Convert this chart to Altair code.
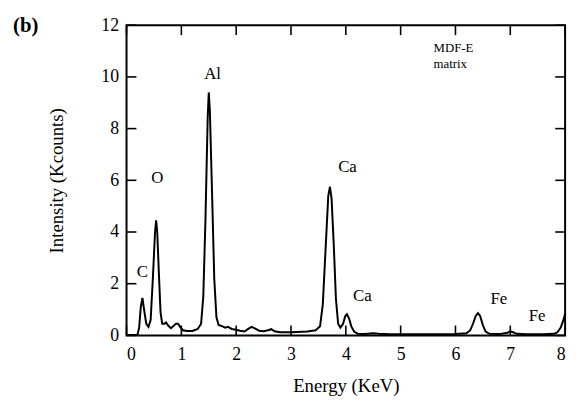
import altair as alt
import pandas as pd

# Spectrum (energy in KeV, intensity in Kcounts)
energy = [0.0, 0.20, 0.23, 0.26, 0.29, 0.32, 0.36, 0.40, 0.44, 0.48, 0.52, 0.54, 0.56, 0.59, 0.62,
          0.65, 0.69, 0.72, 0.76, 0.81, 0.85, 0.90, 0.94, 0.98, 1.03, 1.10, 1.20, 1.30, 1.36, 1.40,
          1.44, 1.48, 1.50, 1.52, 1.56, 1.60, 1.64, 1.68, 1.75, 1.80, 1.85, 1.92, 2.00, 2.07, 2.15,
          2.22, 2.28, 2.34, 2.42, 2.50, 2.58, 2.64, 2.70, 2.80, 2.90, 3.00, 3.10, 3.30, 3.45, 3.53,
          3.58, 3.63, 3.68, 3.71, 3.74, 3.78, 3.82, 3.86, 3.90, 3.95, 3.99, 4.02, 4.06, 4.10, 4.15,
          4.22, 4.35, 4.50, 4.60, 4.80, 5.00, 5.50, 6.00, 6.20, 6.27, 6.32, 6.37, 6.41, 6.45, 6.50,
          6.55, 6.62, 6.80, 6.95, 7.00, 7.05, 7.12, 7.30, 7.60, 7.80, 7.86, 7.92, 7.97, 8.00]
intensity = [0.02, 0.03, 0.30, 1.10, 1.45, 1.00, 0.45, 0.33, 0.60, 2.20, 4.00, 4.45, 4.00, 2.40, 0.90,
             0.45, 0.45, 0.50, 0.38, 0.28, 0.35, 0.45, 0.45, 0.32, 0.20, 0.17, 0.17, 0.25, 0.45, 1.50,
             4.50, 8.40, 9.40, 8.70, 5.50, 2.20, 0.70, 0.40, 0.35, 0.30, 0.33, 0.25, 0.22, 0.18, 0.15,
             0.25, 0.33, 0.27, 0.18, 0.16, 0.20, 0.24, 0.16, 0.12, 0.12, 0.12, 0.13, 0.15, 0.20, 0.35,
             1.20, 3.30, 5.40, 5.75, 5.30, 3.50, 1.40, 0.45, 0.30, 0.45, 0.75, 0.82, 0.65, 0.35, 0.15,
             0.06, 0.05, 0.08, 0.06, 0.04, 0.04, 0.04, 0.05, 0.08, 0.20, 0.45, 0.75, 0.86, 0.75, 0.40,
             0.15, 0.06, 0.05, 0.10, 0.16, 0.12, 0.06, 0.04, 0.04, 0.06, 0.12, 0.30, 0.60, 0.85]

# Peak labels
label_text = ["C", "O", "Al", "Ca", "Ca", "Fe", "Fe"]
label_e = [0.29, 0.56, 1.57, 4.03, 4.30, 6.79, 7.49]
label_i = [2.45, 6.10, 10.1, 6.50, 1.52, 1.40, 0.76]

note_text = ["MDF-E", "matrix"]
note_e = [5.6, 5.6]
note_i = [11.1, 10.5]

panel_text = ["(b)"]
panel_e = [-1.84]
panel_i = [11.95]

x_ticks = [0, 1, 2, 3, 4, 5, 6, 7, 8]
y_ticks = [0, 2, 4, 6, 8, 10, 12]

W, H = 444, 314
FONT = "Liberation Serif"

spec = pd.DataFrame({"Energy": energy, "Intensity": intensity})
labels = pd.DataFrame({"lbl": label_text, "ee": label_e, "ii": label_i})
notes = pd.DataFrame({"lbl": note_text, "ee": note_e, "ii": note_i})
panel = pd.DataFrame({"lbl": panel_text, "ee": panel_e, "ii": panel_i})
xt = pd.DataFrame({"tv": x_ticks})
yt = pd.DataFrame({"tv": y_ticks})

xs = alt.Scale(domain=[0, 8], nice=False, zero=False)
ys = alt.Scale(domain=[0, 12], nice=False, zero=False)

line = alt.Chart(spec).mark_line(color="#000000", strokeWidth=2).encode(
    x=alt.X("Energy:Q", scale=xs,
            axis=alt.Axis(title="Energy (KeV)", values=x_ticks, format="d", labelFont=FONT,
                          labelFontSize=18, labelPadding=10, titlePadding=14)),
    y=alt.Y("Intensity:Q", scale=ys,
            axis=alt.Axis(title="Intensity (Kcounts)", values=y_ticks, format="d", labelFont=FONT,
                          labelFontSize=18, labelPadding=8, titlePadding=35)),
)

TL = 10
xb = alt.Chart(xt).mark_rule(color="#000000", strokeWidth=1.6).encode(
    x=alt.X("tv:Q", scale=xs), y=alt.value(H), y2=alt.value(H - TL))
xtop = alt.Chart(xt).mark_rule(color="#000000", strokeWidth=1.6).encode(
    x=alt.X("tv:Q", scale=xs), y=alt.value(0), y2=alt.value(TL))
yl = alt.Chart(yt).mark_rule(color="#000000", strokeWidth=1.6).encode(
    y=alt.Y("tv:Q", scale=ys), x=alt.value(0), x2=alt.value(TL))
yr = alt.Chart(yt).mark_rule(color="#000000", strokeWidth=1.6).encode(
    y=alt.Y("tv:Q", scale=ys), x=alt.value(W), x2=alt.value(W - TL))

lab = alt.Chart(labels).mark_text(font=FONT, fontSize=17, color="#000000").encode(
    x=alt.X("ee:Q", scale=xs), y=alt.Y("ii:Q", scale=ys), text="lbl:N")
note = alt.Chart(notes).mark_text(font=FONT, fontSize=13, color="#000000", align="left").encode(
    x=alt.X("ee:Q", scale=xs), y=alt.Y("ii:Q", scale=ys), text="lbl:N")
tag = alt.Chart(panel).mark_text(font=FONT, fontSize=21, fontWeight="bold", color="#000000").encode(
    x=alt.X("ee:Q", scale=xs), y=alt.Y("ii:Q", scale=ys), text="lbl:N")

chart = alt.layer(line, xb, xtop, yl, yr, lab, note, tag).properties(
    width=W, height=H,
).configure_axis(
    grid=False, ticks=False, domain=False,
    labelColor="#000000", titleColor="#000000",
    titleFont=FONT, titleFontSize=19, titleFontWeight="normal",
).configure_view(stroke="#000000", strokeWidth=2)

chart.save("out.html", embed_options={"renderer": "svg", "actions": False})
